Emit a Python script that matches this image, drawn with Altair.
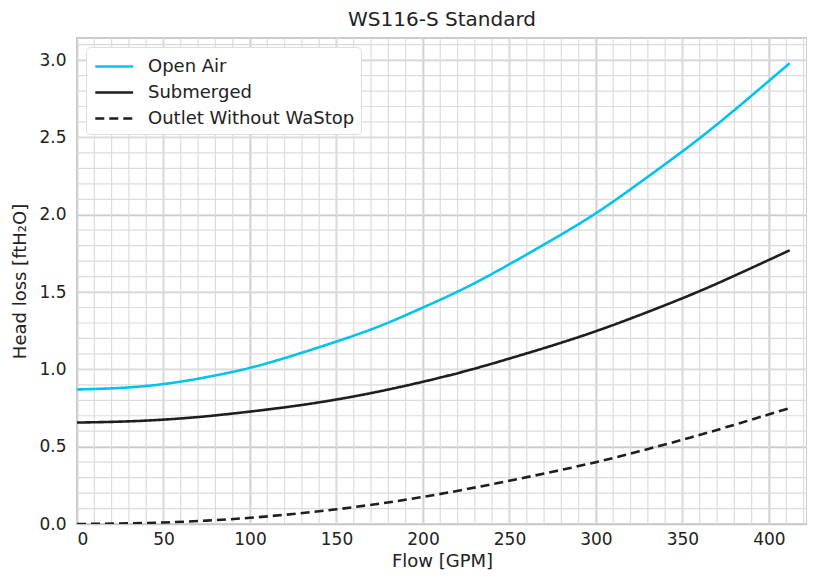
import altair as alt
import pandas as pd

flow = [0, 25, 50, 75, 100, 125, 150, 175, 200, 225, 250, 275, 300, 325, 350, 375, 412]
open_air = [0.87, 0.88, 0.905, 0.95, 1.01, 1.09, 1.18, 1.28, 1.40, 1.53, 1.68, 1.84, 2.01, 2.205, 2.41, 2.63, 2.98]
submerged = [0.656, 0.662, 0.675, 0.697, 0.727, 0.762, 0.805, 0.858, 0.92, 0.99, 1.07, 1.155, 1.247, 1.35, 1.46, 1.58, 1.77]
outlet = [0.0, 0.003, 0.01, 0.022, 0.04, 0.065, 0.095, 0.132, 0.175, 0.225, 0.28, 0.338, 0.40, 0.47, 0.545, 0.625, 0.75]

series = ["Open Air", "Submerged", "Outlet Without WaStop"]
colors = ["#00c3f0", "#1e1e1e", "#1e1e1e"]
dashes = [[1, 0], [1, 0], [9, 5]]

x_major = [0, 50, 100, 150, 200, 250, 300, 350, 400]
y_major = [0.0, 0.5, 1.0, 1.5, 2.0, 2.5, 3.0]
x_minor = list(range(0, 430, 10))
y_minor = [round(i * 0.1, 1) for i in range(0, 32)]

X_DOM = [0, 422]
Y_DOM = [0, 3.143]

rows = []
for name, vals in zip(series, [open_air, submerged, outlet]):
    for f, v in zip(flow, vals):
        rows.append({"flow": f, "head": v, "series": name})
df = pd.DataFrame(rows)

FONT = "DejaVu Sans"

xs = alt.Scale(domain=X_DOM, nice=False, zero=False)
ys = alt.Scale(domain=Y_DOM, nice=False, zero=False)

x_axis = alt.Axis(values=x_major, grid=True, gridColor="#c6c6c6", gridWidth=1.7,
                  ticks=False, domain=False, labelPadding=7, titlePadding=5)
y_axis = alt.Axis(values=y_major, format=".1f", grid=True, gridColor="#c6c6c6", gridWidth=1.7,
                  ticks=False, domain=False, labelPadding=11, titlePadding=9)
X_TITLE = "Flow [GPM]"
Y_TITLE = "Head loss [ftH₂O]"

minor_x = alt.Chart(pd.DataFrame({"v": x_minor})).mark_rule(
    color="#dcdcdc", strokeWidth=1.2, clip=True
).encode(x=alt.X("v:Q", scale=xs, axis=x_axis, title=X_TITLE))

minor_y = alt.Chart(pd.DataFrame({"v": y_minor})).mark_rule(
    color="#dcdcdc", strokeWidth=1.2, clip=True
).encode(y=alt.Y("v:Q", scale=ys, axis=y_axis, title=Y_TITLE))

lines = alt.Chart(df).mark_line(strokeWidth=2.6, interpolate="natural", clip=True).encode(
    x=alt.X("flow:Q", scale=xs, title=X_TITLE, axis=x_axis),
    y=alt.Y("head:Q", scale=ys, title=Y_TITLE, axis=y_axis),
    color=alt.Color("series:N", scale=alt.Scale(domain=series, range=colors), sort=series,
                    legend=alt.Legend(title=None, orient="top-left",
                                      symbolType="M-0.85,0H2.3",
                                      symbolStrokeWidth=2.6, symbolSize=576, labelLimit=0,
                                      labelFontSize=18, labelFont=FONT, labelColor="#222",
                                      fillColor="white", strokeColor="#dddddd", cornerRadius=4,
                                      padding=6, rowPadding=3, offset=9, labelOffset=29)),
    strokeDash=alt.StrokeDash("series:N", scale=alt.Scale(domain=series, range=dashes), sort=series,
                              legend=alt.Legend(title=None)),
)

chart = alt.layer(minor_x, minor_y, lines).properties(
    width=799, height=562,
    autosize=alt.AutoSizeParams(type="fit", contains="padding"),
    title=alt.Title("WS116-S Standard", fontSize=20, fontWeight="normal", font=FONT,
                    color="#222", offset=8),
    padding={"left": 3, "top": 2, "right": 0, "bottom": 0},
).configure_view(
    stroke="#cccccc", strokeWidth=2
).configure_axis(
    labelFont=FONT, titleFont=FONT, labelFontSize=17, titleFontSize=18,
    labelColor="#222", titleColor="#222", titleFontWeight="normal"
)

chart.save("out.html", embed_options={"renderer": "svg", "actions": False})
